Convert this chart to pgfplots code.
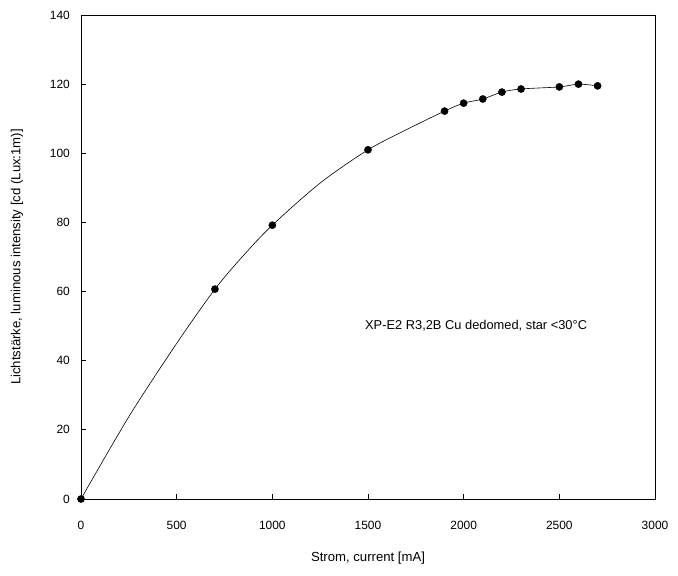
\documentclass[border=0pt]{standalone}
\usepackage{pgfplots}
\pgfplotsset{compat=1.18}
\usepackage{fontspec}
\setmainfont{Liberation Sans}
\begin{document}
\begin{tikzpicture}[x=1bp,y=1bp]
\path[use as bounding box] (-81bp,-77bp) rectangle (597bp,499bp);
\begin{axis}[
  at={(0,0)}, anchor=south west,
  scale only axis,
  width=574bp, height=484bp,
  xmin=0, xmax=3000, ymin=0, ymax=140,
  xtick={0,500,...,3000}, ytick={0,20,...,140},
  tick align=inside,
  xtick pos=bottom, ytick pos=left,
  major tick length=5bp,
  tick style={black, line width=0.8bp},
  axis line style={black, line width=0.9bp},
  font=\fontsize{12}{14}\selectfont,
  /pgf/number format/assume math mode=true,
  /pgf/number format/1000 sep={},
  xticklabel style={anchor=center, yshift=-26bp},
  yticklabel style={anchor=east, inner sep=0pt, xshift=-11bp},
  xlabel={Strom, current [mA]},
  ylabel={Lichtstärke, luminous intensity [cd (Lux:1m)]},
  every axis x label/.style={at={(axis description cs:0.5,-0.122)}, anchor=center,
    font=\fontsize{13.2}{15}\selectfont},
  every axis y label/.style={at={(axis description cs:-0.1115,0.5)}, anchor=center,
    rotate=90, font=\fontsize{13.2}{15}\selectfont},
  clip=false,
]
% fitted curve through the measurements
\addplot[black, line width=0.6bp, smooth, tension=0.5, mark=none]
  coordinates {
  (0,0) (250,23.8) (500,45) (700,60.7) (850,70.5) (1000,79.2) (1250,91.4)
  (1500,101) (1700,106.8) (1900,112.2) (2000,114.5) (2100,115.7)
  (2200,117.7) (2300,118.6) (2500,119.2) (2600,120) (2700,119.5)
  };
% measured values
\addplot[only marks, black, mark=*, mark size=3.6bp, mark options={fill=black}]
  coordinates {
  (0,0) (700,60.7) (1000,79.2) (1500,101) (1900,112.2) (2000,114.5)
  (2100,115.7) (2200,117.7) (2300,118.6) (2500,119.2) (2600,120) (2700,119.5)
  };
\node[anchor=west, inner sep=0pt, font=\fontsize{12.9}{15}\selectfont]
  at (axis cs:1484,50) {XP-E2 R3,2B Cu dedomed, star <30°C};
\end{axis}
\end{tikzpicture}
\end{document}
